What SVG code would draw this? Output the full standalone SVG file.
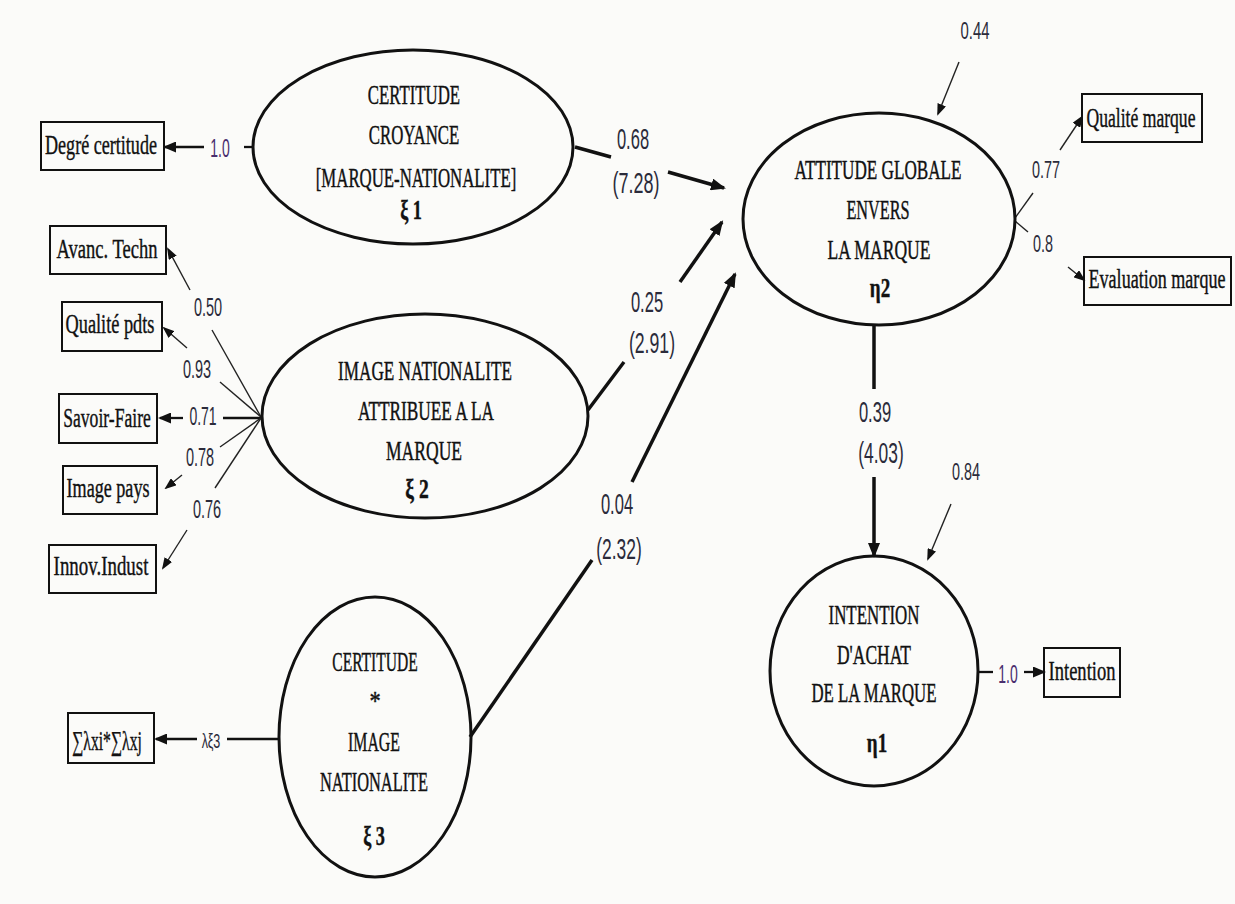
<svg xmlns="http://www.w3.org/2000/svg" width="1235" height="904" viewBox="0 0 1235 904">
<defs>
<style>
.bg{fill:#fbfbf9}
.lat{fill:none;stroke:#111;stroke-width:3}
.box{fill:none;stroke:#111;stroke-width:2}
.nt{font-family:"Liberation Serif","Times New Roman",serif;font-size:28px;fill:#111;stroke:#111;stroke-width:0.45;text-anchor:middle}
.bt{font-family:"Liberation Serif","Times New Roman",serif;font-size:27px;fill:#111;stroke:#111;stroke-width:0.4;text-anchor:middle}
.b{font-weight:bold}
.lb{font-family:"Liberation Sans",Arial,sans-serif;fill:#2b2b3b;text-anchor:middle}
.big{font-size:29px}
.sm{font-size:25px}
.xs{font-size:24px}
.xxs{font-size:21px}
.pu{fill:#4a2f6e}
.thick{stroke:#111;stroke-width:3.5;fill:none}
.med{stroke:#111;stroke-width:2.3;fill:none}
.thin{stroke:#222;stroke-width:1.4;fill:none}
</style>
<marker id="ab" markerUnits="userSpaceOnUse" markerWidth="16" markerHeight="12" refX="13" refY="6" orient="auto"><path d="M0,0 L15,6 L0,12 z" fill="#111"/></marker>
<marker id="am" markerUnits="userSpaceOnUse" markerWidth="13" markerHeight="11" refX="11" refY="5.5" orient="auto"><path d="M0,0 L13,5.5 L0,11 z" fill="#111"/></marker>
<marker id="as" markerUnits="userSpaceOnUse" markerWidth="12" markerHeight="9" refX="10" refY="4.5" orient="auto"><path d="M0,0 L12,4.5 L0,9 z" fill="#111"/></marker>
</defs>
<rect class="bg" x="0" y="0" width="1235" height="904"/>

<g id="connectors">
  <line class="med" x1="254" y1="147" x2="244" y2="147"/>
  <line class="med" x1="204" y1="147" x2="165" y2="147" marker-end="url(#am)"/>
  <line class="thin" x1="261" y1="417" x2="212" y2="330"/>
  <line class="thin" x1="190" y1="290" x2="168" y2="249" marker-end="url(#as)"/>
  <line class="thin" x1="261" y1="417" x2="220" y2="382"/>
  <line class="thin" x1="187" y1="348" x2="164" y2="328" marker-end="url(#as)"/>
  <line class="med" x1="261" y1="418" x2="223" y2="418"/>
  <line class="med" x1="183" y1="418" x2="160" y2="418" marker-end="url(#am)"/>
  <line class="thin" x1="261" y1="418" x2="220" y2="447"/>
  <line class="thin" x1="182" y1="475" x2="166" y2="488" marker-end="url(#as)"/>
  <line class="thin" x1="261" y1="418" x2="215" y2="488"/>
  <line class="thin" x1="187" y1="530" x2="163" y2="568" marker-end="url(#as)"/>
  <line class="med" x1="279" y1="739" x2="227" y2="739"/>
  <line class="med" x1="197" y1="739" x2="156" y2="739" marker-end="url(#am)"/>
  <line class="thick" x1="575" y1="147" x2="611" y2="157"/>
  <line class="thick" x1="668" y1="172" x2="724" y2="188" marker-end="url(#ab)"/>
  <line class="thick" x1="588" y1="410" x2="624" y2="362"/>
  <line class="thick" x1="680" y1="282" x2="722" y2="222" marker-end="url(#ab)"/>
  <line class="thick" x1="470" y1="737" x2="592" y2="560"/>
  <line class="thick" x1="632" y1="482" x2="735" y2="274" marker-end="url(#ab)"/>
  <line class="thick" x1="874" y1="326" x2="874" y2="389"/>
  <line class="thick" x1="874" y1="477" x2="874" y2="556" marker-end="url(#ab)"/>
  <line class="thin" x1="959" y1="62" x2="938" y2="114" marker-end="url(#as)"/>
  <line class="thin" x1="951" y1="504" x2="928" y2="559" marker-end="url(#as)"/>
  <line class="thin" x1="1015" y1="218" x2="1033" y2="193"/>
  <line class="thin" x1="1060" y1="150" x2="1082" y2="117" marker-end="url(#as)"/>
  <line class="thin" x1="1015" y1="221" x2="1028" y2="232"/>
  <line class="thin" x1="1068" y1="267" x2="1084" y2="280" marker-end="url(#as)"/>
  <line class="med" x1="978" y1="672" x2="993" y2="672"/>
  <line class="med" x1="1024" y1="672" x2="1044" y2="672" marker-end="url(#am)"/>

  <text class="lb sm pu" transform="matrix(0.56 0 0 1 220 156.5)">1.0</text>
  <text class="lb sm" transform="matrix(0.58 0 0 1 208 316)">0.50</text>
  <text class="lb sm" transform="matrix(0.58 0 0 1 197 377.5)">0.93</text>
  <text class="lb sm" transform="matrix(0.56 0 0 1 203 425)">0.71</text>
  <text class="lb sm" transform="matrix(0.58 0 0 1 200 466)">0.78</text>
  <text class="lb sm" transform="matrix(0.58 0 0 1 207 517.5)">0.76</text>
  <text class="lb xxs" transform="matrix(0.6 0 0 1 211 748)">λξ3</text>
  <text class="lb big" transform="matrix(0.57 0 0 1 633 149)">0.68</text>
  <text class="lb big" transform="matrix(0.62 0 0 1 636 193)">(7.28)</text>
  <text class="lb big" transform="matrix(0.57 0 0 1 647 312)">0.25</text>
  <text class="lb big" transform="matrix(0.61 0 0 1 652 353)">(2.91)</text>
  <text class="lb big" transform="matrix(0.57 0 0 1 617 514)">0.04</text>
  <text class="lb big" transform="matrix(0.6 0 0 1 619 559)">(2.32)</text>
  <text class="lb big" transform="matrix(0.57 0 0 1 875 422)">0.39</text>
  <text class="lb big" transform="matrix(0.6 0 0 1 881 463)">(4.03)</text>
  <text class="lb xs" transform="matrix(0.62 0 0 1 975 39)">0.44</text>
  <text class="lb xs" transform="matrix(0.6 0 0 1 966 480)">0.84</text>
  <text class="lb xs" transform="matrix(0.6 0 0 1 1046 178)">0.77</text>
  <text class="lb xs" transform="matrix(0.6 0 0 1 1043 251.5)">0.8</text>
  <text class="lb sm pu" transform="matrix(0.56 0 0 1 1008 683)">1.0</text>
</g>

<g id="xi1">
  <ellipse class="lat" cx="413" cy="147" rx="160" ry="97"/>
  <text class="nt" transform="matrix(0.6 0 0 1 414 104)">CERTITUDE</text>
  <text class="nt" transform="matrix(0.6 0 0 1 414 144)">CROYANCE</text>
  <text class="nt" transform="matrix(0.6 0 0 1 416 187)">[MARQUE-NATIONALITE]</text>
  <text class="nt b" transform="matrix(0.65 0 0 1 411 219)">ξ 1</text>
</g>
<g id="xi2">
  <ellipse class="lat" cx="425" cy="416" rx="163" ry="102"/>
  <text class="nt" transform="matrix(0.613 0 0 1 425 380)">IMAGE NATIONALITE</text>
  <text class="nt" transform="matrix(0.616 0 0 1 426 420)">ATTRIBUEE A LA</text>
  <text class="nt" transform="matrix(0.627 0 0 1 424 460)">MARQUE</text>
  <text class="nt b" transform="matrix(0.7 0 0 1 417 498)">ξ 2</text>
</g>
<g id="xi3">
  <ellipse class="lat" cx="375" cy="737" rx="96" ry="140"/>
  <text class="nt" transform="matrix(0.555 0 0 1 375 671)">CERTITUDE</text>
  <text class="nt" transform="matrix(0.8 0 0 1 375 710)">*</text>
  <text class="nt" transform="matrix(0.567 0 0 1 374 751)">IMAGE</text>
  <text class="nt" transform="matrix(0.585 0 0 1 374 791)">NATIONALITE</text>
  <text class="nt b" transform="matrix(0.65 0 0 1 374 845)">ξ 3</text>
</g>
<g id="eta2">
  <ellipse class="lat" cx="879" cy="219" rx="136" ry="106"/>
  <text class="nt" transform="matrix(0.612 0 0 1 878 179)">ATTITUDE GLOBALE</text>
  <text class="nt" transform="matrix(0.58 0 0 1 878 219)">ENVERS</text>
  <text class="nt" transform="matrix(0.628 0 0 1 879 259)">LA MARQUE</text>
  <text class="nt b" transform="matrix(0.68 0 0 1 880 297)">η2</text>
</g>
<g id="eta1">
  <ellipse class="lat" cx="874" cy="671" rx="104" ry="115"/>
  <text class="nt" transform="matrix(0.603 0 0 1 874 624)">INTENTION</text>
  <text class="nt" transform="matrix(0.624 0 0 1 874 664)">D'ACHAT</text>
  <text class="nt" transform="matrix(0.6 0 0 1 874 702)">DE LA MARQUE</text>
  <text class="nt b" transform="matrix(0.68 0 0 1 877 752)">η1</text>
</g>

<g id="degre-certitude">
  <rect class="box" x="41" y="122" width="123" height="48"/>
  <text class="bt" transform="matrix(0.67 0 0 1 101 154)">Degré certitude</text>
</g>
<g id="avanc-techn">
  <rect class="box" x="50" y="226" width="116" height="48"/>
  <text class="bt" transform="matrix(0.687 0 0 1 107 258)">Avanc. Techn</text>
</g>
<g id="qualite-pdts">
  <rect class="box" x="62" y="302" width="100" height="49"/>
  <text class="bt" transform="matrix(0.678 0 0 1 110 333)">Qualité pdts</text>
</g>
<g id="savoir-faire">
  <rect class="box" x="59" y="394" width="98" height="49"/>
  <text class="bt" transform="matrix(0.652 0 0 1 107 427)">Savoir-Faire</text>
</g>
<g id="image-pays">
  <rect class="box" x="63" y="466" width="94" height="48"/>
  <text class="bt" transform="matrix(0.671 0 0 1 108 497)">Image pays</text>
</g>
<g id="innov-indust">
  <rect class="box" x="49" y="545" width="107" height="48"/>
  <text class="bt" transform="matrix(0.7 0 0 1 101 575)">Innov.Indust</text>
</g>
<g id="produit">
  <rect class="box" x="68" y="713" width="86" height="50"/>
  <text class="bt" transform="matrix(0.58 0 0 1 107 750)">∑λxi*∑λxj</text>
</g>
<g id="qualite-marque">
  <rect class="box" x="1082" y="94" width="120" height="48"/>
  <text class="bt" transform="matrix(0.652 0 0 1 1141 127)">Qualité marque</text>
</g>
<g id="evaluation-marque">
  <rect class="box" x="1084" y="257" width="147" height="48"/>
  <text class="bt" transform="matrix(0.669 0 0 1 1157 288)">Evaluation marque</text>
</g>
<g id="intention">
  <rect class="box" x="1044" y="648" width="76" height="49"/>
  <text class="bt" transform="matrix(0.687 0 0 1 1082 680)">Intention</text>
</g>
</svg>
